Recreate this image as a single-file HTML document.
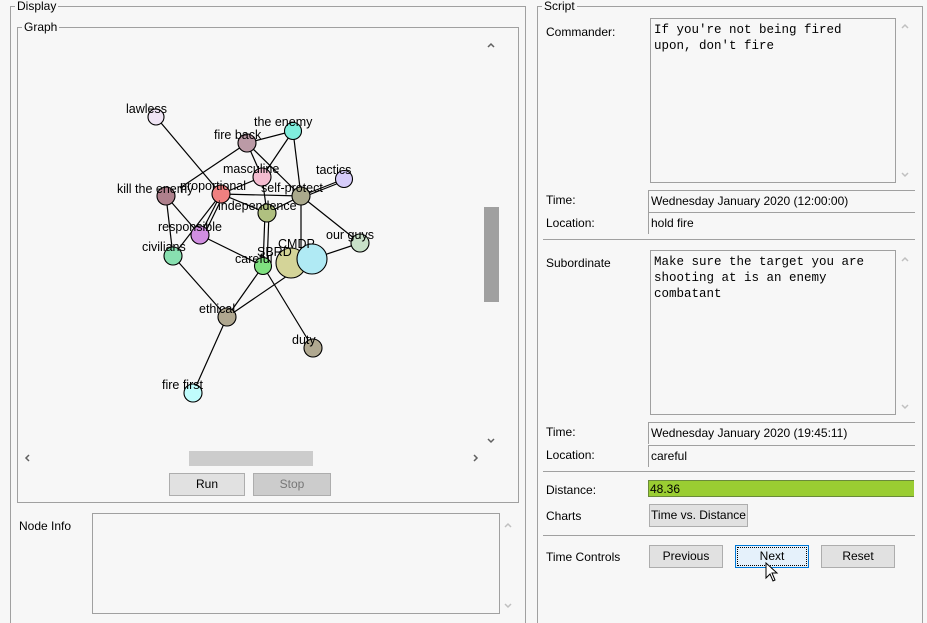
<!DOCTYPE html>
<html><head><meta charset="utf-8"><style>
html,body{margin:0;width:927px;height:623px;overflow:hidden}
body{background:#f7f7f7;font-family:"Liberation Sans",sans-serif;font-size:12px;color:#000;position:relative}
.a{position:absolute}
.box{position:absolute;border:1px solid #a0a0a0}
.lg{position:absolute;background:#f7f7f7;padding:0 2px;font-size:12px;line-height:13px}
.ta{position:absolute;border:1px solid #a0a0a0;background:#f7f7f7;font-family:"Liberation Mono",monospace;font-size:12.5px;line-height:16px;padding:3px 3px;box-sizing:border-box}
.btn{position:absolute;border:1px solid #adadad;background:#e1e1e1;text-align:center;line-height:20px;font-size:12px;box-sizing:border-box}
.fld{position:absolute;border-top:1px solid #a0a0a0;border-left:1px solid #a0a0a0;height:22px;line-height:20px;padding-left:2px;box-sizing:border-box}
.hl{position:absolute;height:1px;background:#a0a0a0}
</style></head><body>
<!-- Display -->
<div class="box" style="left:10px;top:6px;width:514px;height:620px;border-bottom:none"></div>
<div class="lg" style="left:15px;top:0">Display</div>
<div class="box" style="left:17px;top:27px;width:500px;height:474px"></div>
<div class="lg" style="left:22px;top:21px">Graph</div>
<div class="a" style="left:484px;top:207px;width:15px;height:95px;background:#a0a0a0"></div>
<div class="a" style="left:189px;top:451px;width:124px;height:15px;background:#cccccc"></div>
<svg class="a" style="left:0;top:0" width="927" height="623" fill="none" stroke-width="1.5">
<polyline points="488,47 491,44 494,47" stroke="#606060"/>
<polyline points="488,439 491,442 494,439" stroke="#606060"/>
<polyline points="29,455 26,458 29,461" stroke="#606060"/>
<polyline points="474,455 477,458 474,461" stroke="#606060"/>
<polyline points="505,527 508,524 511,527" stroke="#c0c0c0"/>
<polyline points="505,604 508,607 511,604" stroke="#c0c0c0"/>
<polyline points="902,28 905,25 908,28" stroke="#c0c0c0"/>
<polyline points="902,173 905,176 908,173" stroke="#c0c0c0"/>
<polyline points="902,261 905,258 908,261" stroke="#c0c0c0"/>
<polyline points="902,405 905,408 908,405" stroke="#c0c0c0"/>
</svg>
<div class="btn" style="left:169px;top:473px;width:76px;height:23px">Run</div>
<div class="btn" style="left:253px;top:473px;width:78px;height:23px;background:#cccccc;color:#777">Stop</div>
<div class="a" style="left:19px;top:519px">Node Info</div>
<div class="ta" style="left:92px;top:513px;width:408px;height:101px"></div>

<svg class="a" style="left:0;top:0" width="520" height="500">
<g stroke="#000" stroke-width="1.2" fill="none">
<line x1="156" y1="117" x2="221" y2="194"/>
<line x1="247" y1="143" x2="293" y2="131"/>
<line x1="247" y1="143" x2="180" y2="188"/>
<line x1="247" y1="143" x2="262" y2="177"/>
<line x1="247" y1="143" x2="301" y2="196"/>
<line x1="293" y1="131" x2="262" y2="177"/>
<line x1="293" y1="131" x2="301" y2="196"/>
<line x1="262" y1="177" x2="221" y2="194"/>
<line x1="262" y1="177" x2="267" y2="213"/>
<line x1="221" y1="194" x2="301" y2="196"/>
<line x1="221" y1="194" x2="267" y2="213"/>
<line x1="221" y1="194" x2="200" y2="235"/>
<line x1="223" y1="196" x2="203" y2="237"/>
<line x1="221" y1="194" x2="173" y2="256"/>
<line x1="344" y1="179" x2="301" y2="196"/>
<line x1="344" y1="181" x2="301" y2="198"/>
<line x1="301" y1="196" x2="267" y2="213"/>
<line x1="301" y1="196" x2="360" y2="243"/>
<line x1="301" y1="196" x2="301" y2="262"/>
<line x1="166" y1="196" x2="173" y2="256"/>
<line x1="166" y1="196" x2="200" y2="235"/>
<line x1="265" y1="213" x2="263" y2="266"/>
<line x1="269" y1="213" x2="267" y2="266"/>
<line x1="200" y1="235" x2="263" y2="266"/>
<line x1="173" y1="256" x2="227" y2="317"/>
<line x1="263" y1="266" x2="227" y2="317"/>
<line x1="312" y1="259" x2="227" y2="317"/>
<line x1="263" y1="266" x2="313" y2="348"/>
<line x1="312" y1="259" x2="360" y2="243"/>
<line x1="227" y1="317" x2="193" y2="393"/>
</g>
<g stroke="#000" stroke-width="1.1">
<circle cx="156" cy="117" r="8" fill="#efe4f4"/>
<circle cx="293" cy="131" r="8.5" fill="#80eedd"/>
<circle cx="247" cy="143" r="9" fill="#bb9aa6"/>
<circle cx="262" cy="177" r="9" fill="#f4bcd0"/>
<circle cx="344" cy="179" r="8.5" fill="#d6ccfa"/>
<circle cx="166" cy="196" r="9" fill="#ae808c"/>
<circle cx="221" cy="194" r="9" fill="#f08080"/>
<circle cx="301" cy="196" r="9" fill="#aaa98c"/>
<circle cx="267" cy="213" r="9" fill="#b0c080"/>
<circle cx="200" cy="235" r="9" fill="#d08ee0"/>
<circle cx="360" cy="243" r="9" fill="#c8e0c8"/>
<circle cx="173" cy="256" r="9" fill="#88e0b0"/>
<circle cx="263" cy="266" r="8.5" fill="#80e080"/>
<circle cx="291" cy="263" r="15" fill="#d4d498"/>
<circle cx="312" cy="259" r="15" fill="#b0eaf4"/>
<circle cx="227" cy="317" r="9" fill="#b0a890"/>
<circle cx="313" cy="348" r="9" fill="#b0a890"/>
<circle cx="193" cy="393" r="9" fill="#c0fcfc"/>
</g>
<g font-family="Liberation Sans,sans-serif" font-size="12.5" fill="#000">
<text x="126" y="113">lawless</text>
<text x="254" y="126">the enemy</text>
<text x="214" y="139">fire back</text>
<text x="223" y="173">masculine</text>
<text x="316" y="174">tactics</text>
<text x="117" y="193">kill the enemy</text>
<text x="180" y="190">proportional</text>
<text x="261" y="192">self-protect</text>
<text x="218" y="210">independence</text>
<text x="158" y="231">responsible</text>
<text x="326" y="239">our guys</text>
<text x="142" y="251">civilians</text>
<text x="235" y="263">careful</text>
<text x="257" y="256">SBRD</text>
<text x="278" y="248">CMDP</text>
<text x="199" y="313">ethical</text>
<text x="292" y="344">duty</text>
<text x="162" y="389">fire first</text>
</g>
</svg>

<!-- Script -->
<div class="box" style="left:537px;top:6px;width:384px;height:620px;border-bottom:none"></div>
<div class="lg" style="left:542px;top:0">Script</div>
<div class="a" style="left:546px;top:25px">Commander:</div>
<div class="ta" style="left:650px;top:18px;width:246px;height:165px">If you're not being fired<br>upon, don't fire</div>
<div class="a" style="left:546px;top:193px">Time:</div>
<div class="fld" style="left:648px;top:190px;width:267px">Wednesday January 2020 (12:00:00)</div>
<div class="a" style="left:546px;top:216px">Location:</div>
<div class="fld" style="left:648px;top:212px;width:267px">hold fire</div>
<div class="hl" style="left:543px;top:239px;width:372px"></div>
<div class="a" style="left:546px;top:256px">Subordinate</div>
<div class="ta" style="left:650px;top:250px;width:246px;height:165px">Make sure the target you are<br>shooting at is an enemy<br>combatant</div>
<div class="a" style="left:546px;top:425px">Time:</div>
<div class="fld" style="left:648px;top:422px;width:267px">Wednesday January 2020 (19:45:11)</div>
<div class="a" style="left:546px;top:448px">Location:</div>
<div class="fld" style="left:648px;top:445px;width:267px">careful</div>
<div class="hl" style="left:543px;top:471px;width:372px"></div>
<div class="a" style="left:546px;top:483px">Distance:</div>
<div class="a" style="left:648px;top:480px;width:266px;height:17px;background:#9acd32;border:1px solid #6a8a3a;border-right:none;line-height:17px;padding-left:1px;box-sizing:border-box">48.36</div>
<div class="a" style="left:546px;top:509px">Charts</div>
<div class="btn" style="left:649px;top:504px;width:99px;height:23px">Time vs. Distance</div>
<div class="hl" style="left:543px;top:535px;width:372px"></div>
<div class="a" style="left:546px;top:550px">Time Controls</div>
<div class="btn" style="left:649px;top:545px;width:74px;height:23px">Previous</div>
<div class="btn" style="left:735px;top:545px;width:74px;height:23px;background:#e5f1fb;border:1px solid #0078d7;outline:1px dotted #000;outline-offset:-3px">Next</div>
<div class="btn" style="left:821px;top:545px;width:74px;height:23px">Reset</div>
<svg class="a" style="left:765px;top:562px" width="16" height="22"><path d="M1 1 L1 16 L5 12 L8 19 L10 18 L7 11 L12 11 Z" fill="#fff" stroke="#000" stroke-width="1"/></svg>
</body></html>
